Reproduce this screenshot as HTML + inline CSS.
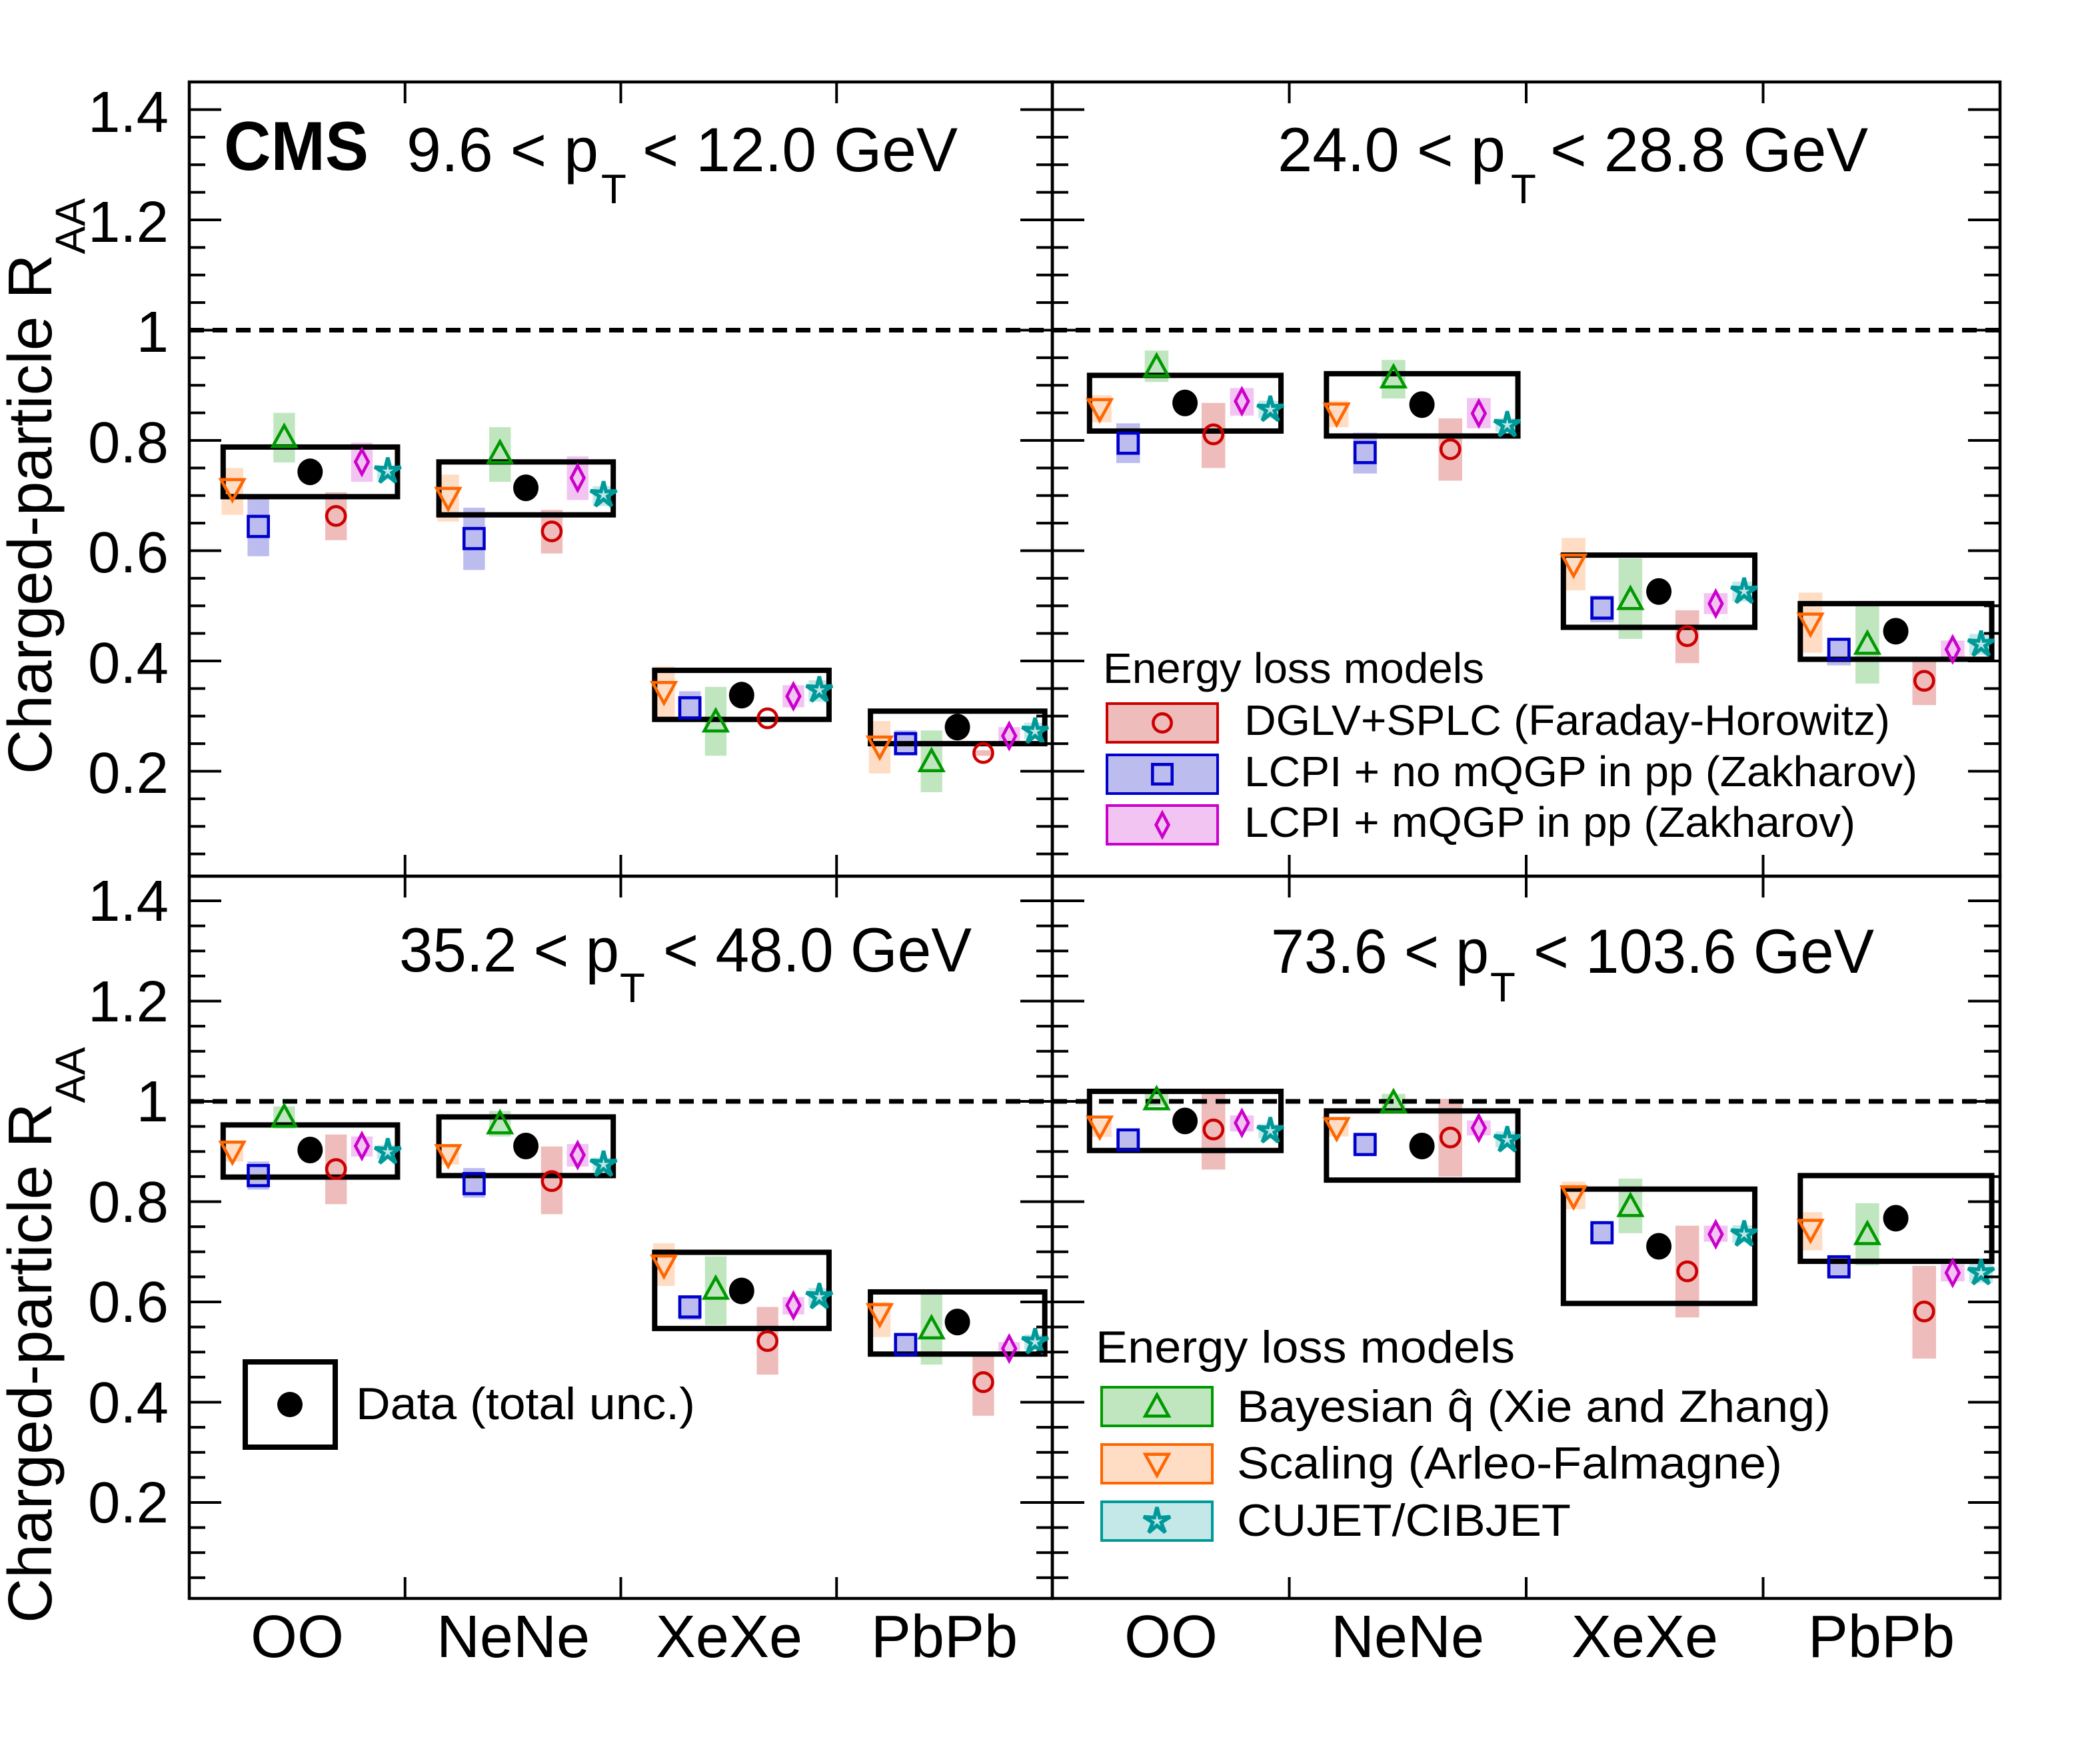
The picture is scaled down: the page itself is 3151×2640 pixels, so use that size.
<!DOCTYPE html>
<html><head><meta charset="utf-8">
<style>
html,body{margin:0;padding:0;background:#fff;}
svg{display:block;font-family:"Liberation Sans","DejaVu Sans",sans-serif;}
</style></head>
<body>
<svg id="s" xmlns="http://www.w3.org/2000/svg" width="3151" height="2640" viewBox="0 0 3151 2640">
<rect width="3151" height="2640" fill="#fff"/>
<g id="plot"></g>
<g font-size="87" text-anchor="end" fill="#000">
<text x="253" y="198">1.4</text>
<text x="253" y="363">1.2</text>
<text x="253" y="528">1</text>
<text x="253" y="694">0.8</text>
<text x="253" y="859">0.6</text>
<text x="253" y="1025">0.4</text>
<text x="253" y="1190">0.2</text>
<text x="253" y="1382">1.4</text>
<text x="253" y="1533">1.2</text>
<text x="253" y="1683">1</text>
<text x="253" y="1834">0.8</text>
<text x="253" y="1984">0.6</text>
<text x="253" y="2135">0.4</text>
<text x="253" y="2285">0.2</text>
</g>
<text font-size="93" transform="translate(77,1162) rotate(-90)">Charged-particle R<tspan font-size="63" dy="50">AA</tspan></text>
<text font-size="93" transform="translate(77,2436) rotate(-90)">Charged-particle R<tspan font-size="63" dy="50">AA</tspan></text>
<g font-size="90" text-anchor="middle">
<text x="446" y="2487">OO</text>
<text x="770" y="2487">NeNe</text>
<text x="1094" y="2487">XeXe</text>
<text x="1417" y="2487">PbPb</text>
<text x="1757" y="2487">OO</text>
<text x="2112" y="2487">NeNe</text>
<text x="2468" y="2487">XeXe</text>
<text x="2823" y="2487">PbPb</text>
</g>
<text x="336" y="255" font-size="104" font-weight="bold" textLength="217" lengthAdjust="spacingAndGlyphs">CMS</text>
<g font-size="94">
<text x="610" y="257" textLength="288" lengthAdjust="spacingAndGlyphs">9.6 &lt; p</text>
<text x="902" y="305" font-size="62">T</text>
<text x="964" y="257" textLength="473" lengthAdjust="spacingAndGlyphs">&lt; 12.0 GeV</text>

<text x="1917" y="257" textLength="342" lengthAdjust="spacingAndGlyphs">24.0 &lt; p</text>
<text x="2267" y="305" font-size="62">T</text>
<text x="2326" y="257" textLength="477" lengthAdjust="spacingAndGlyphs">&lt; 28.8 GeV</text>

<text x="599" y="1458" textLength="330" lengthAdjust="spacingAndGlyphs">35.2 &lt; p</text>
<text x="930" y="1504" font-size="62">T</text>
<text x="995" y="1458" textLength="463" lengthAdjust="spacingAndGlyphs">&lt; 48.0 GeV</text>

<text x="1907" y="1460" textLength="327" lengthAdjust="spacingAndGlyphs">73.6 &lt; p</text>
<text x="2236" y="1503" font-size="62">T</text>
<text x="2301" y="1460" textLength="511" lengthAdjust="spacingAndGlyphs">&lt; 103.6 GeV</text>
</g>
<g font-size="64">
<text x="1655" y="1025" textLength="572" lengthAdjust="spacingAndGlyphs">Energy loss models</text>
<text x="1867" y="1103" textLength="969" lengthAdjust="spacingAndGlyphs">DGLV+SPLC (Faraday-Horowitz)</text>
<text x="1867" y="1180" textLength="1010" lengthAdjust="spacingAndGlyphs">LCPI + no mQGP in pp (Zakharov)</text>
<text x="1867" y="1256" textLength="917" lengthAdjust="spacingAndGlyphs">LCPI + mQGP in pp (Zakharov)</text>
</g>
<g font-size="68">
<text x="1644" y="2045" textLength="629" lengthAdjust="spacingAndGlyphs">Energy loss models</text>
<text x="1856" y="2134" textLength="891" lengthAdjust="spacingAndGlyphs">Bayesian q&#770; (Xie and Zhang)</text>
<text x="1856" y="2219" textLength="818" lengthAdjust="spacingAndGlyphs">Scaling (Arleo-Falmagne)</text>
<text x="1856" y="2305" textLength="501" lengthAdjust="spacingAndGlyphs">CUJET/CIBJET</text>
<text x="534" y="2130" textLength="509" lengthAdjust="spacingAndGlyphs">Data (total unc.)</text>
</g>
</svg>
<script>
(function(){
var NS="http://www.w3.org/2000/svg";
var g=document.getElementById("plot");
function el(n,a){var e=document.createElementNS(NS,n);for(var k in a)e.setAttribute(k,a[k]);g.appendChild(e);return e;}
var C={dglv:["#cc0000","#efbcbc"],lno:["#0000cc","#bcbcee"],lm:["#cc00cc","#f2c4f2"],bay:["#009900","#c0e6c0"],scal:["#ff6600","#ffdcc4"],cu:["#009999","#c4e8e8"]};
var F={scal:0.2,lno:0.32,bay:0.44,data:0.56,dglv:0.68,lm:0.8,cu:0.92};
function marker(t,x,y,col,sc){sc=sc||1.08;var sw=4.6;
 if(t=="dglv")el("circle",{cx:x,cy:y,r:13*sc,fill:"none",stroke:col,"stroke-width":sw});
 else if(t=="lno")el("rect",{x:x-14*sc,y:y-14*sc,width:28*sc,height:28*sc,fill:"none",stroke:col,"stroke-width":sw});
 else if(t=="lm")el("polygon",{points:[x,y-17*sc,x+9*sc,y,x,y+17*sc,x-9*sc,y].join(","),fill:"none",stroke:col,"stroke-width":sw});
 else if(t=="bay")el("polygon",{points:[x,y-16*sc,x+16*sc,y+13*sc,x-16*sc,y+13*sc].join(","),fill:"none",stroke:col,"stroke-width":sw});
 else if(t=="scal")el("polygon",{points:[x,y+16*sc,x+16*sc,y-13*sc,x-16*sc,y-13*sc].join(","),fill:"none",stroke:col,"stroke-width":sw});
 else if(t=="cu"){var p=[];for(var i=0;i<10;i++){var r=(i%2?6:19)*sc,a=-Math.PI/2+i*Math.PI/5;p.push(x+r*Math.cos(a),y+r*Math.sin(a));}
  el("polygon",{points:p.join(","),fill:"none",stroke:col,"stroke-width":5.5});}
}
var P=[
 {x0:284,x1:1579,yt:123,yb:1315,y1:495.5,s:827.5,d:[
  {scal:[.712,.665,.75],lno:[.644,.59,.696],bay:[.806,.76,.85],data:[.743,.698,.788],dglv:[.663,.619,.706],lm:[.761,.725,.796],cu:[.744,.729,.754]},
  {scal:[.696,.653,.738],lno:[.622,.565,.678],bay:[.777,.725,.824],data:[.714,.665,.761],dglv:[.635,.595,.674],lm:[.732,.692,.771],cu:[.701,.681,.717]},
  {scal:[.344,.298,.39],lno:[.315,.298,.345],bay:[.29,.228,.353],data:[.338,.294,.383],dglv:[.296,.29,.30],lm:[.336,.316,.356],cu:[.347,.326,.365]},
  {scal:[.245,.196,.291],lno:[.25,.231,.274],bay:[.218,.162,.274],data:[.28,.25,.309],dglv:[.233,.228,.238],lm:[.264,.25,.28],cu:[.272,.258,.288]}]},
 {x0:1579,x1:3001,yt:123,yb:1315,y1:495.5,s:827.5,d:[
  {scal:[.857,.833,.882],lno:[.795,.759,.831],bay:[.934,.906,.963],data:[.868,.817,.918],dglv:[.811,.75,.868],lm:[.871,.845,.895],cu:[.856,.84,.872]},
  {scal:[.849,.824,.872],lno:[.778,.74,.814],bay:[.914,.876,.946],data:[.865,.808,.921],dglv:[.784,.727,.84],lm:[.849,.822,.877],cu:[.828,.816,.84]},
  {scal:[.575,.528,.623],lno:[.496,.47,.519],bay:[.512,.44,.586],data:[.526,.461,.592],dglv:[.445,.396,.492],lm:[.504,.485,.523],cu:[.526,.508,.544]},
  {scal:[.468,.415,.524],lno:[.421,.392,.442],bay:[.431,.359,.507],data:[.454,.403,.504],dglv:[.364,.32,.405],lm:[.421,.406,.437],cu:[.43,.411,.449]}]},
 {x0:284,x1:1579,yt:1315,yb:2399,y1:1653,s:752.5,d:[
  {scal:[.90,.88,.92],lno:[.852,.824,.88],bay:[.969,.946,.99],data:[.903,.849,.953],dglv:[.865,.795,.934],lm:[.911,.89,.93],cu:[.899,.885,.913]},
  {scal:[.893,.874,.915],lno:[.836,.808,.867],bay:[.956,.93,.981],data:[.911,.852,.969],dglv:[.841,.775,.91],lm:[.893,.87,.915],cu:[.874,.86,.888]},
  {scal:[.673,.632,.717],lno:[.59,.564,.61],bay:[.626,.554,.691],data:[.622,.547,.699],dglv:[.522,.455,.59],lm:[.593,.575,.61],cu:[.61,.593,.628]},
  {scal:[.576,.53,.6],lno:[.515,.5,.535],bay:[.547,.475,.62],data:[.56,.496,.62],dglv:[.44,.373,.5],lm:[.507,.495,.52],cu:[.52,.505,.535]}]},
 {x0:1579,x1:3001,yt:1315,yb:2399,y1:1653,s:752.5,d:[
  {scal:[.95,.929,.964],lno:[.923,.905,.94],bay:[1.004,.991,1.017],data:[.961,.902,1.02],dglv:[.944,.864,1.017],lm:[.957,.94,.972],cu:[.941,.926,.955]},
  {scal:[.947,.93,.962],lno:[.914,.897,.933],bay:[.998,.982,1.015],data:[.911,.843,.981],dglv:[.928,.85,1.005],lm:[.947,.932,.962],cu:[.923,.908,.94]},
  {scal:[.811,.785,.84],lno:[.738,.72,.756],bay:[.791,.737,.846],data:[.711,.597,.825],dglv:[.661,.569,.752],lm:[.735,.72,.752],cu:[.735,.718,.753]},
  {scal:[.744,.703,.779],lno:[.67,.652,.687],bay:[.735,.673,.797],data:[.767,.681,.852],dglv:[.581,.487,.672],lm:[.658,.641,.675],cu:[.658,.638,.678]}]}
];
var keys=["scal","lno","bay","dglv","lm","cu"];
P.forEach(function(p){
 var cw=(p.x1-p.x0)/4;function Y(v){return p.y1+(1-v)*p.s;}
 p.d.forEach(function(c,i){var cx0=p.x0+i*cw;
  keys.forEach(function(k){var v=c[k];var x=cx0+F[k]*cw;
   el("rect",{x:x-cw*0.05,y:Y(v[2]),width:cw*0.1,height:Math.max(2,Y(v[1])-Y(v[2])),fill:C[k][1]});});
 });
 el("line",{x1:p.x0,x2:p.x1,y1:Y(1),y2:Y(1),stroke:"#000","stroke-width":7,"stroke-dasharray":"22,13"});
 p.d.forEach(function(c,i){var cx0=p.x0+i*cw;
  var v=c.data;el("rect",{x:cx0+0.157*cw,y:Y(v[2]),width:0.808*cw,height:Y(v[1])-Y(v[2]),fill:"none",stroke:"#000","stroke-width":8});
  keys.forEach(function(k){var v=c[k];marker(k,cx0+F[k]*cw,Y(v[0]),C[k][0]);});
  el("ellipse",{cx:cx0+0.56*cw,cy:Y(v[0]),rx:19,ry:20,fill:"#000"});
 });
 el("rect",{x:p.x0,y:p.yt,width:p.x1-p.x0,height:p.yb-p.yt,fill:"none",stroke:"#000","stroke-width":4.5});
 for(var j=1;j<4;j++){var x=p.x0+j*cw;
  el("line",{x1:x,x2:x,y1:p.yt,y2:p.yt+32,stroke:"#000","stroke-width":4});
  el("line",{x1:x,x2:x,y1:p.yb,y2:p.yb-32,stroke:"#000","stroke-width":4});}
 for(var t=1;t<=29;t++){var v=t*0.05;var y=Y(v);if(y<p.yt+2||y>p.yb-2)continue;
  var L=(t%4==0)?48:24;
  el("line",{x1:p.x0,x2:p.x0+L,y1:y,y2:y,stroke:"#000","stroke-width":4});
  el("line",{x1:p.x1,x2:p.x1-L,y1:y,y2:y,stroke:"#000","stroke-width":4});}
});
function lb(x,y,k,sc){el("rect",{x:x,y:y,width:166,height:58,fill:C[k][1],stroke:C[k][0],"stroke-width":4});marker(k,x+83,y+29,C[k][0],sc);}
lb(1661,1056,"dglv",1.05);lb(1661,1133,"lno",1.05);lb(1661,1209,"lm",1.05);
lb(1653,2082,"bay",1.1);lb(1653,2168,"scal",1.1);lb(1653,2254,"cu",1.1);
el("rect",{x:368,y:2044,width:135,height:128,fill:"none",stroke:"#000","stroke-width":8});
el("circle",{cx:435,cy:2108,r:19,fill:"#000"});
})();
</script>
</body></html>
